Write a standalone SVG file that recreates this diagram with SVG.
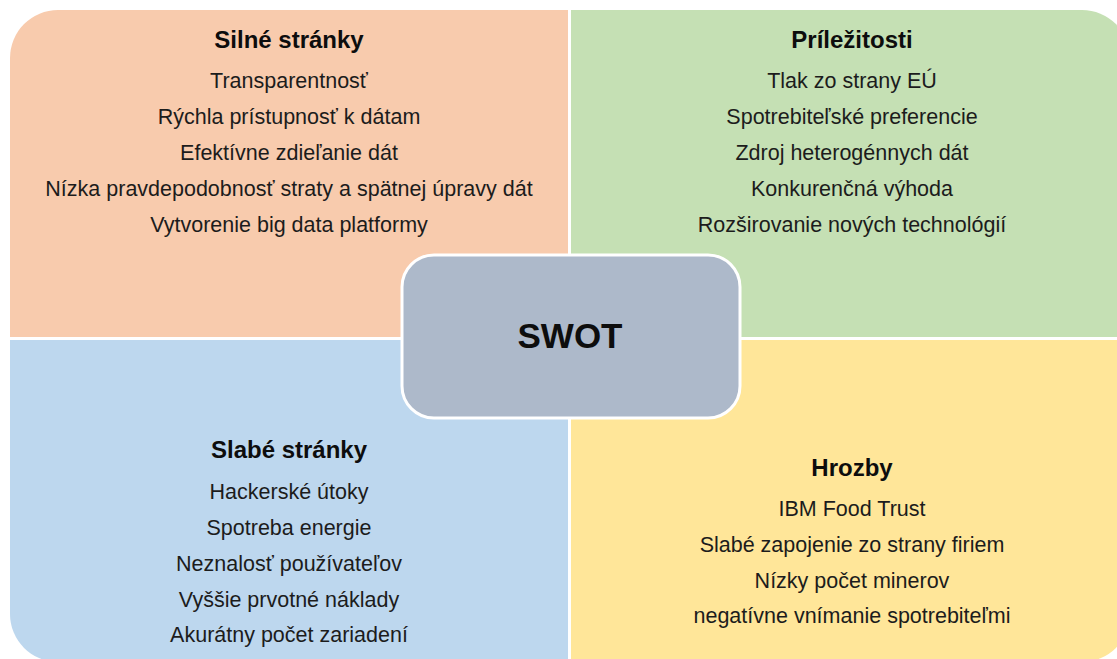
<svg xmlns="http://www.w3.org/2000/svg" width="1117" height="659" viewBox="0 0 1117 659">
<style>
.t{font-family:"Liberation Sans",Arial,sans-serif;font-size:24px;font-weight:bold;fill:#0d0d0d;text-anchor:middle}
.b{font-family:"Liberation Sans",Arial,sans-serif;font-size:21.5px;fill:#1c1c1c;text-anchor:middle}
.c{font-family:"Liberation Sans",Arial,sans-serif;font-size:35px;font-weight:bold;fill:#0d0d0d;text-anchor:middle}
</style>
<rect width="1117" height="659" fill="#ffffff"/>
<g id="strengths">
<path d="M10,58 A48,48 0 0 1 58,10 L568,10 L568,337 L10,337 Z" fill="#F8CBAD"/>
<text class="t" x="289" y="48">Silné stránky</text>
<text class="b" x="289" y="88">Transparentnosť</text>
<text class="b" x="289" y="124">Rýchla prístupnosť k dátam</text>
<text class="b" x="289" y="160">Efektívne zdieľanie dát</text>
<text class="b" x="289" y="196">Nízka pravdepodobnosť straty a spätnej úpravy dát</text>
<text class="b" x="289" y="232">Vytvorenie big data platformy</text>
</g>
<g id="opportunities">
<path d="M571,10 L1082,10 A48,48 0 0 1 1130,58 L1130,337 L571,337 Z" fill="#C5E0B4"/>
<text class="t" x="852" y="48">Príležitosti</text>
<text class="b" x="852" y="88">Tlak zo strany EÚ</text>
<text class="b" x="852" y="124">Spotrebiteľské preferencie</text>
<text class="b" x="852" y="160">Zdroj heterogénnych dát</text>
<text class="b" x="852" y="196">Konkurenčná výhoda</text>
<text class="b" x="852" y="232">Rozširovanie nových technológií</text>
</g>
<g id="weaknesses">
<path d="M10,340 L568,340 L568,662 L58,662 A48,48 0 0 1 10,614 Z" fill="#BDD7EE"/>
<text class="t" x="289" y="458">Slabé stránky</text>
<text class="b" x="289" y="499">Hackerské útoky</text>
<text class="b" x="289" y="535">Spotreba energie</text>
<text class="b" x="289" y="571">Neznalosť používateľov</text>
<text class="b" x="289" y="607">Vyššie prvotné náklady</text>
<text class="b" x="289" y="642">Akurátny počet zariadení</text>
</g>
<g id="threats">
<path d="M571,340 L1130,340 L1130,614 A48,48 0 0 1 1082,662 L571,662 Z" fill="#FFE699"/>
<text class="t" x="852" y="476">Hrozby</text>
<text class="b" x="852" y="516">IBM Food Trust</text>
<text class="b" x="852" y="552">Slabé zapojenie zo strany firiem</text>
<text class="b" x="852" y="588">Nízky počet minerov</text>
<text class="b" x="852" y="623">negatívne vnímanie spotrebiteľmi</text>
</g>
<g id="swot">
<rect x="402" y="255" width="338" height="163" rx="32" ry="32" fill="#ADB9CA" stroke="#ffffff" stroke-width="3"/>
<text class="c" x="570" y="348">SWOT</text>
</g>
<g id="connectors"></g>
</svg>
